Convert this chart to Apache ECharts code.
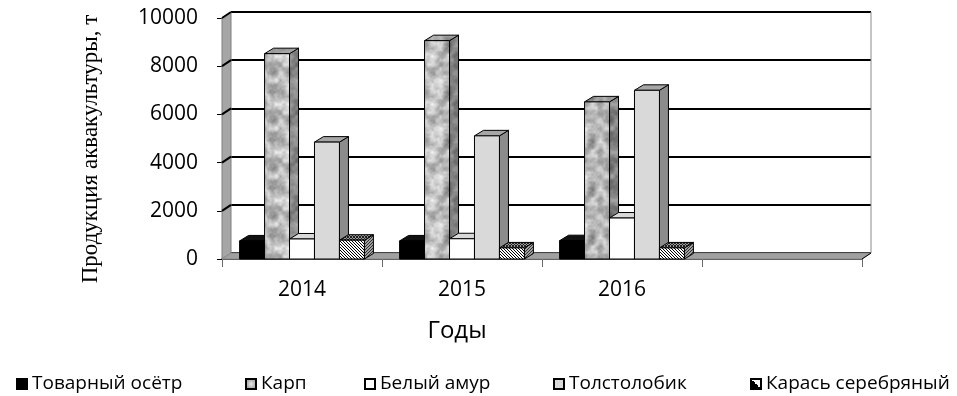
<!DOCTYPE html>
<html>
<head>
<meta charset="utf-8">
<style>
  html, body { margin: 0; padding: 0; background: #ffffff; }
  #chart { width: 957px; height: 396px; }
</style>
<script src="https://cdn.jsdelivr.net/npm/echarts@6/dist/echarts.min.js"></script>
</head>
<body>
<div id="chart"></div>
<script>
// Aquaculture output by species, tonnes
const categories = ['2014', '2015', '2016', ''];
const seriesNames = ['Товарный осётр', 'Карп', 'Белый амур', 'Толстолобик', 'Карась серебряный'];
const osetr  = [750, 750, 760];
const karp   = [8520, 9060, 6520];
const amur   = [830, 840, 1700];
const tolsto = [4850, 5110, 7000];
const karas  = [780, 460, 460];
const yTicks = [0, 2000, 4000, 6000, 8000, 10000];

const seriesValues = [osetr, karp, amur, tolsto, karas];

// depth of the 3D box (wall / floor) and of the columns
const WALL_DX = 9, WALL_DY = -6;
const BAR_DX = 9, BAR_DY = -5.5;

// ---- fill textures ----
// tileable value noise used for the granite-like fill
function hash(ix, iy) {
  const s = Math.sin(ix * 127.1 + iy * 311.7) * 43758.5453;
  return s - Math.floor(s);
}
function noiseAt(x, y, cell, n) {
  const cells = n / cell;
  const gx = x / cell, gy = y / cell;
  const ix = Math.floor(gx), iy = Math.floor(gy);
  const fx = gx - ix, fy = gy - iy;
  const sx = fx * fx * (3 - 2 * fx), sy = fy * fy * (3 - 2 * fy);
  const h = (a, b) => hash(((a % cells) + cells) % cells + cell * 7, ((b % cells) + cells) % cells + cell * 13);
  const a = h(ix, iy), b = h(ix + 1, iy), c = h(ix, iy + 1), d = h(ix + 1, iy + 1);
  return (a * (1 - sx) + b * sx) * (1 - sy) + (c * (1 - sx) + d * sx) * sy;
}
function stoneCanvas(base, amp) {
  const n = 48, cv = document.createElement('canvas');
  cv.width = n; cv.height = n;
  const ctx = cv.getContext('2d');
  const img = ctx.createImageData(n, n);
  for (let y = 0; y < n; y++) {
    for (let x = 0; x < n; x++) {
      const f = noiseAt(x, y, 8, n) * 0.55 + noiseAt(x, y, 4, n) * 0.3 + noiseAt(x, y, 2, n) * 0.15 - 0.5;
      const v = Math.max(0, Math.min(255, Math.round(base + amp * 2 * f)));
      const i = (y * n + x) * 4;
      img.data[i] = v; img.data[i + 1] = v; img.data[i + 2] = v; img.data[i + 3] = 255;
    }
  }
  ctx.putImageData(img, 0, 0);
  return cv;
}
function hatchCanvas(bg, fg, dir, step) {
  const cv = document.createElement('canvas');
  cv.width = step; cv.height = step;
  const ctx = cv.getContext('2d');
  ctx.fillStyle = bg; ctx.fillRect(0, 0, step, step);
  ctx.fillStyle = fg;
  for (let i = 0; i < step; i++) {
    const x = dir > 0 ? i : step - 1 - i;
    ctx.fillRect(x, i, 1, 1);
  }
  return cv;
}
function crossCanvas(bg, fg) {
  const cv = document.createElement('canvas');
  cv.width = 3; cv.height = 3;
  const ctx = cv.getContext('2d');
  ctx.fillStyle = bg; ctx.fillRect(0, 0, 3, 3);
  ctx.fillStyle = fg;
  [[0,0],[1,1],[2,2],[2,0],[0,2]].forEach(p => ctx.fillRect(p[0], p[1], 1, 1));
  return cv;
}
const pat = (cv) => ({ image: cv, repeat: 'repeat' });

const faceStyles = [
  { front: '#000000', top: '#111111', side: '#000000' },
  { front: pat(stoneCanvas(180, 80)), top: pat(stoneCanvas(150, 60)), side: pat(stoneCanvas(125, 60)) },
  { front: '#ffffff', top: '#d9d9d9', side: '#bfbfbf' },
  { front: '#d9d9d9', top: '#a6a6a6', side: '#8c8c8c' },
  { front: pat(hatchCanvas('#ffffff', '#000000', 1, 3)), top: pat(crossCanvas('#9a9a9a', '#202020')), side: pat(hatchCanvas('#a0a0a0', '#303030', -1, 3)) }
];

function barRenderer(s) {
  return function (params, api) {
    const cat = api.value(0), val = api.value(1);
    const band = api.size([1, 0])[0];
    const bw = band * 0.78 / 5;
    const b = api.coord([cat, 0]);
    const t = api.coord([cat, val]);
    const x = b[0] - 2.5 * bw + s * bw;
    const base = b[1], top = t[1];
    const st = faceStyles[s];
    const line = { stroke: '#000000', lineWidth: 1 };
    return {
      type: 'group',
      children: [
        { type: 'polygon', shape: { points: [[x + bw, top], [x + bw + BAR_DX, top + BAR_DY], [x + bw + BAR_DX, base + BAR_DY], [x + bw, base]] },
          style: Object.assign({ fill: st.side }, line) },
        { type: 'polygon', shape: { points: [[x, top], [x + bw, top], [x + bw + BAR_DX, top + BAR_DY], [x + BAR_DX, top + BAR_DY]] },
          style: Object.assign({ fill: st.top }, line) },
        { type: 'rect', shape: { x: x, y: top, width: bw, height: base - top },
          style: Object.assign({ fill: st.front }, line) }
      ]
    };
  };
}

// left wall, floor and the diagonal continuation of each gridline over the side wall
function wallRenderer(params, api) {
  const cs = params.coordSys;
  const x0 = cs.x, x1 = cs.x + cs.width, yT = cs.y, yB = cs.y + cs.height;
  const v = api.value(0);
  const p = api.coord([0, v]);
  const y = p[1];
  const children = [];
  if (params.dataIndex === 0) {
    children.push(
      { type: 'polygon', shape: { points: [[x0, yT], [x0 + WALL_DX, yT + WALL_DY], [x0 + WALL_DX, yB + WALL_DY], [x0, yB]] },
        style: { fill: '#a6a6a6', stroke: '#7f7f7f', lineWidth: 1 } },
      { type: 'polygon', shape: { points: [[x0, yB], [x1, yB], [x1 + WALL_DX, yB + WALL_DY], [x0 + WALL_DX, yB + WALL_DY]] },
        style: { fill: '#a0a0a0', stroke: '#8a8a8a', lineWidth: 1 } },
      { type: 'line', shape: { x1: x1 + WALL_DX, y1: yT + WALL_DY, x2: x1 + WALL_DX, y2: yB + WALL_DY },
        style: { stroke: '#8a8a8a', lineWidth: 1 } },
      { type: 'line', shape: { x1: x1, y1: yB, x2: x1 + WALL_DX, y2: yB + WALL_DY },
        style: { stroke: '#000000', lineWidth: 1 } }
    );
  }
  if (v > 0) {
    children.push({ type: 'line', shape: { x1: x0, y1: y, x2: x0 + WALL_DX, y2: y + WALL_DY },
      style: { stroke: '#000000', lineWidth: 2 } });
  }
  return { type: 'group', children: children };
}

// legend swatches
const legendStyles = [
  { color: '#000000', borderColor: '#000000', borderWidth: 1.5 },
  { color: { type: 'radial', x: 0.5, y: 0.5, r: 0.7, colorStops: [{ offset: 0, color: '#e6e6e6' }, { offset: 1, color: '#7a7a7a' }] }, borderColor: '#000000', borderWidth: 1.5 },
  { color: '#ffffff', borderColor: '#000000', borderWidth: 1.5 },
  { color: '#d9d9d9', borderColor: '#000000', borderWidth: 1.5 },
  { color: { type: 'linear', x: 0, y: 1, x2: 1, y2: 0, colorStops: [{ offset: 0, color: '#000000' }, { offset: 0.5, color: '#000000' }, { offset: 0.5, color: '#ffffff' }, { offset: 1, color: '#ffffff' }] }, borderColor: '#000000', borderWidth: 1.5 }
];
const legendLeft = [11, 240, 359, 548, 745];

const FONT = 'Open Sans';

const option = {
  animation: false,
  textStyle: { fontFamily: FONT, color: '#000000' },
  grid: [
    { left: 222, right: 95, top: 18, bottom: 137 },
    { left: 222 + WALL_DX, right: 95 - WALL_DX, top: 18 + WALL_DY, bottom: 137 - WALL_DY }
  ],
  xAxis: [
    {
      type: 'category', gridIndex: 0, data: categories,
      axisLine: { lineStyle: { color: '#000000', width: 1.5 } },
      axisTick: { show: true, length: 8, lineStyle: { color: '#6a6a6a' } },
      axisLabel: { interval: 0, fontSize: 21, color: '#000000', margin: 21, fontFamily: FONT },
      splitLine: { show: false }
    },
    { type: 'category', gridIndex: 1, data: categories, show: false }
  ],
  yAxis: [
    {
      type: 'value', gridIndex: 0, min: 0, max: 10000, interval: 2000,
      axisLine: { show: true, lineStyle: { color: '#000000', width: 1 } },
      axisTick: { show: true, length: 5, lineStyle: { color: '#000000' } },
      axisLabel: { fontSize: 21, color: '#000000', margin: 24, fontFamily: FONT, formatter: (v) => String(v), padding: [4, 0, 0, 0] },
      splitLine: { show: false }
    },
    {
      type: 'value', gridIndex: 1, min: 0, max: 10000, interval: 2000,
      axisLine: { show: false }, axisTick: { show: false }, axisLabel: { show: false },
      splitLine: { show: true, lineStyle: { color: '#000000', width: 2 } }
    }
  ],
  legend: seriesNames.map((n, i) => ({
    data: [n],
    icon: 'rect',
    left: legendLeft[i], top: 367,
    itemWidth: 10, itemHeight: 10, itemGap: 4,
    selectedMode: false,
    textStyle: { fontSize: 19, fontFamily: FONT, color: '#000000', lineHeight: 24 }
  })),
  graphic: [
    { type: 'text', x: 457, y: 331, style: { text: 'Годы', font: '24px "' + FONT + '"', fill: '#000000', textAlign: 'center', textVerticalAlign: 'middle' } },
    { type: 'text', x: 91, y: 149, rotation: Math.PI / 2,
      style: { text: 'Продукция аквакультуры, т', font: '23px "Liberation Serif"', fill: '#000000', textAlign: 'center', textVerticalAlign: 'middle' } }
  ],
  series: [
    {
      type: 'custom', name: 'walls', xAxisIndex: 0, yAxisIndex: 0, z: 1,
      renderItem: wallRenderer, data: yTicks.map(v => [v]), encode: { y: 0 }, silent: true
    }
  ].concat(seriesNames.map((n, s) => ({
    type: 'custom', name: n, xAxisIndex: 0, yAxisIndex: 0, z: 3,
    itemStyle: legendStyles[s],
    renderItem: barRenderer(s),
    data: seriesValues[s].map((v, i) => [i, v]),
    encode: { x: 0, y: 1 }
  })))
};

const chart = echarts.init(document.getElementById('chart'), null, { renderer: 'canvas' });
chart.setOption(option);
</script>
</body>
</html>
